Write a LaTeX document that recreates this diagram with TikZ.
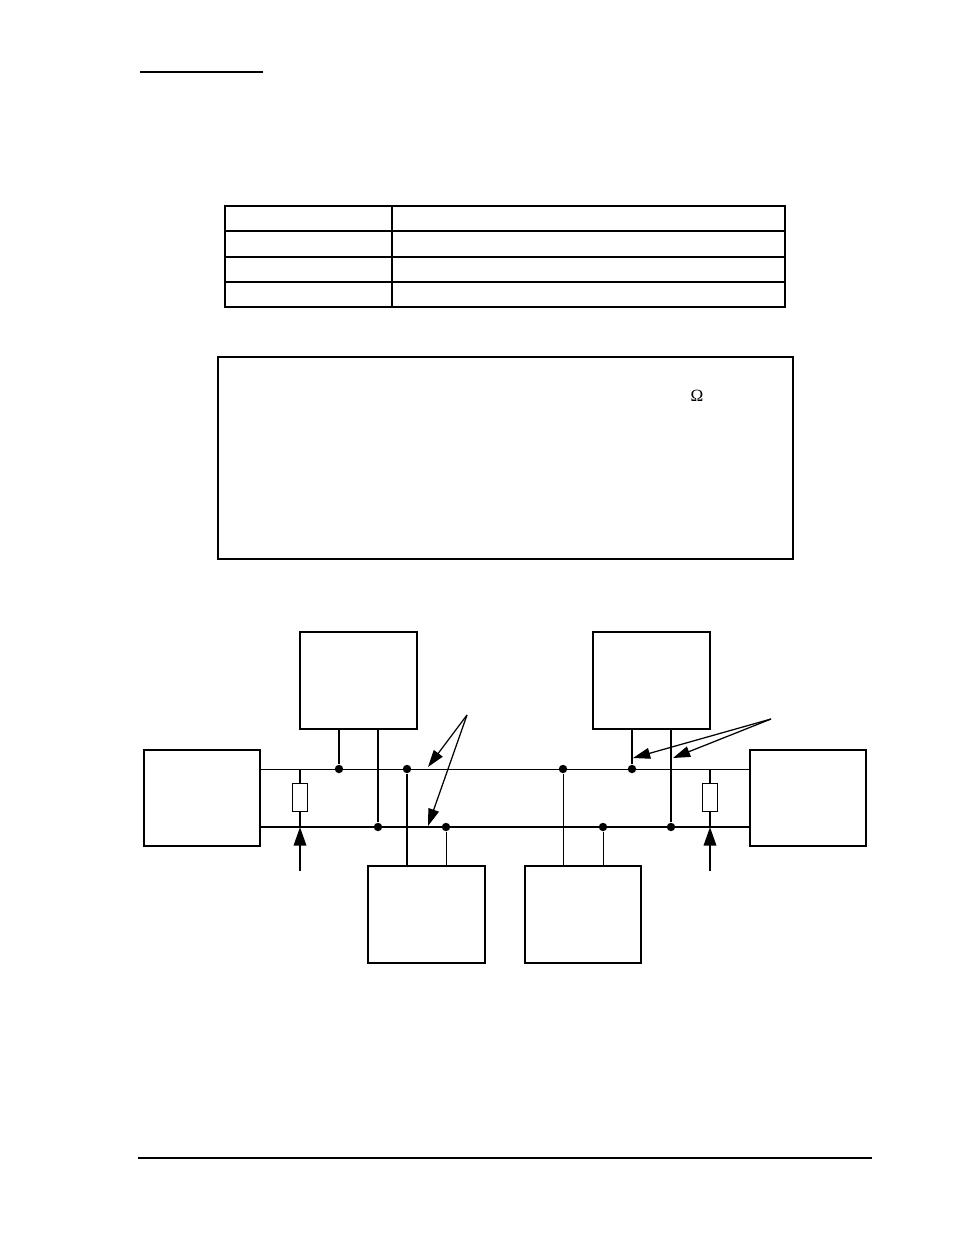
\documentclass[tikz,border=0pt]{standalone}
\usepackage{fontspec}
\setmainfont{Liberation Serif}
\usetikzlibrary{arrows.meta}
\begin{document}
\begin{tikzpicture}[x=0.6415pt, y=-0.6415pt,
	unit/.style = {draw, line width=1.25pt, minimum width=75pt, minimum height=62pt, inner sep=0pt, outer sep=0pt},
	res/.style = {draw, line width=0.65pt, minimum width=9.5pt, minimum height=18.5pt, inner sep=0pt, outer sep=0pt},
	dot/.style = {circle, fill, inner sep=0pt, minimum size=5.4pt},
	wire/.style = {line width=0.6pt},
	bus/.style = {line width=1.4pt},
	feed/.style = {line width=1.4pt, -{Triangle[length=12pt, width=8pt]}},
	point/.style = {line width=0.8pt, -{Triangle[length=11pt, width=7pt]}}]
	\useasboundingbox (0,0) rectangle (954,1235);

	% page rules
	\draw[line width=1pt] (140,72) -- (263,72);
	\draw[line width=1pt] (138,1158) -- (872,1158);

	% table
	\draw[line width=1pt] (225,206) rectangle (785,307);
	\foreach \y in {231,257,282}
		\draw[line width=1pt] (225,\y) -- (785,\y);
	\draw[line width=1pt] (392,206) -- (392,307);

	% note frame
	\draw[line width=1pt] (218,357) rectangle (793,559);
	\node[font=\fontsize{11}{13}\selectfont, inner sep=0pt] (ohm) at (697,396) {Ω};

	% units
	\node[unit] (A) at (358.5,680.5) {};
	\node[unit] (B) at (651.5,680.5) {};
	\node[unit] (L) at (202,798) {};
	\node[unit] (R) at (808,798) {};
	\node[unit] (C) at (426.5,914.5) {};
	\node[unit] (D) at (583,914.5) {};

	% taps
	\node[dot] (a1) at (339,769) {};
	\node[dot] (c1) at (407,769) {};
	\node[dot] (d1) at (563,769) {};
	\node[dot] (b1) at (632,769) {};
	\node[dot] (a2) at (378,827) {};
	\node[dot] (c2) at (446,827) {};
	\node[dot] (d2) at (603,827) {};
	\node[dot] (b2) at (671,827) {};

	% bus lines
	\draw[wire] (L.east |- a1) -- (R.west |- a1);
	\draw[bus] (L.east |- a2) -- (R.west |- a2);

	% terminators
	\node[res] (t1) at (300,797.5) {};
	\node[res] (t2) at (710,797.5) {};
	\draw[line width=0.9pt] (t1.north |- a1) -- (t1.north)
		(t1.south) -- (t1.south |- a2)
		(t2.north |- a1) -- (t2.north)
		(t2.south) -- (t2.south |- a2);

	% drops
	\draw[bus] (A.south -| a1) -- (a1)
		(A.south -| a2) -- (a2)
		(B.south -| b1) -- (b1)
		(B.south -| b2) -- (b2)
		(c1) -- (C.north -| c1);
	\draw[wire] (c2) -- (C.north -| c2)
		(d1) -- (D.north -| d1)
		(d2) -- (D.north -| d2);

	% feed arrows
	\coordinate (f1) at (300,871);
	\coordinate (f2) at (710,871);
	\draw[feed] (f1) -- (t1.south |- a2);
	\draw[feed] (f2) -- (t2.south |- a2);

	% pointers
	\coordinate (p1) at (467,715);
	\coordinate (q1) at (428,767);
	\coordinate (q2) at (428,826);
	\coordinate (p2) at (771,719);
	\coordinate (q3) at (633,758);
	\coordinate (q4) at (673,758);
	\draw[point] (p1) -- (q1);
	\draw[point] (p1) -- (q2);
	\draw[point] (p2) -- (q3);
	\draw[point] (p2) -- (q4);
\end{tikzpicture}
\end{document}
